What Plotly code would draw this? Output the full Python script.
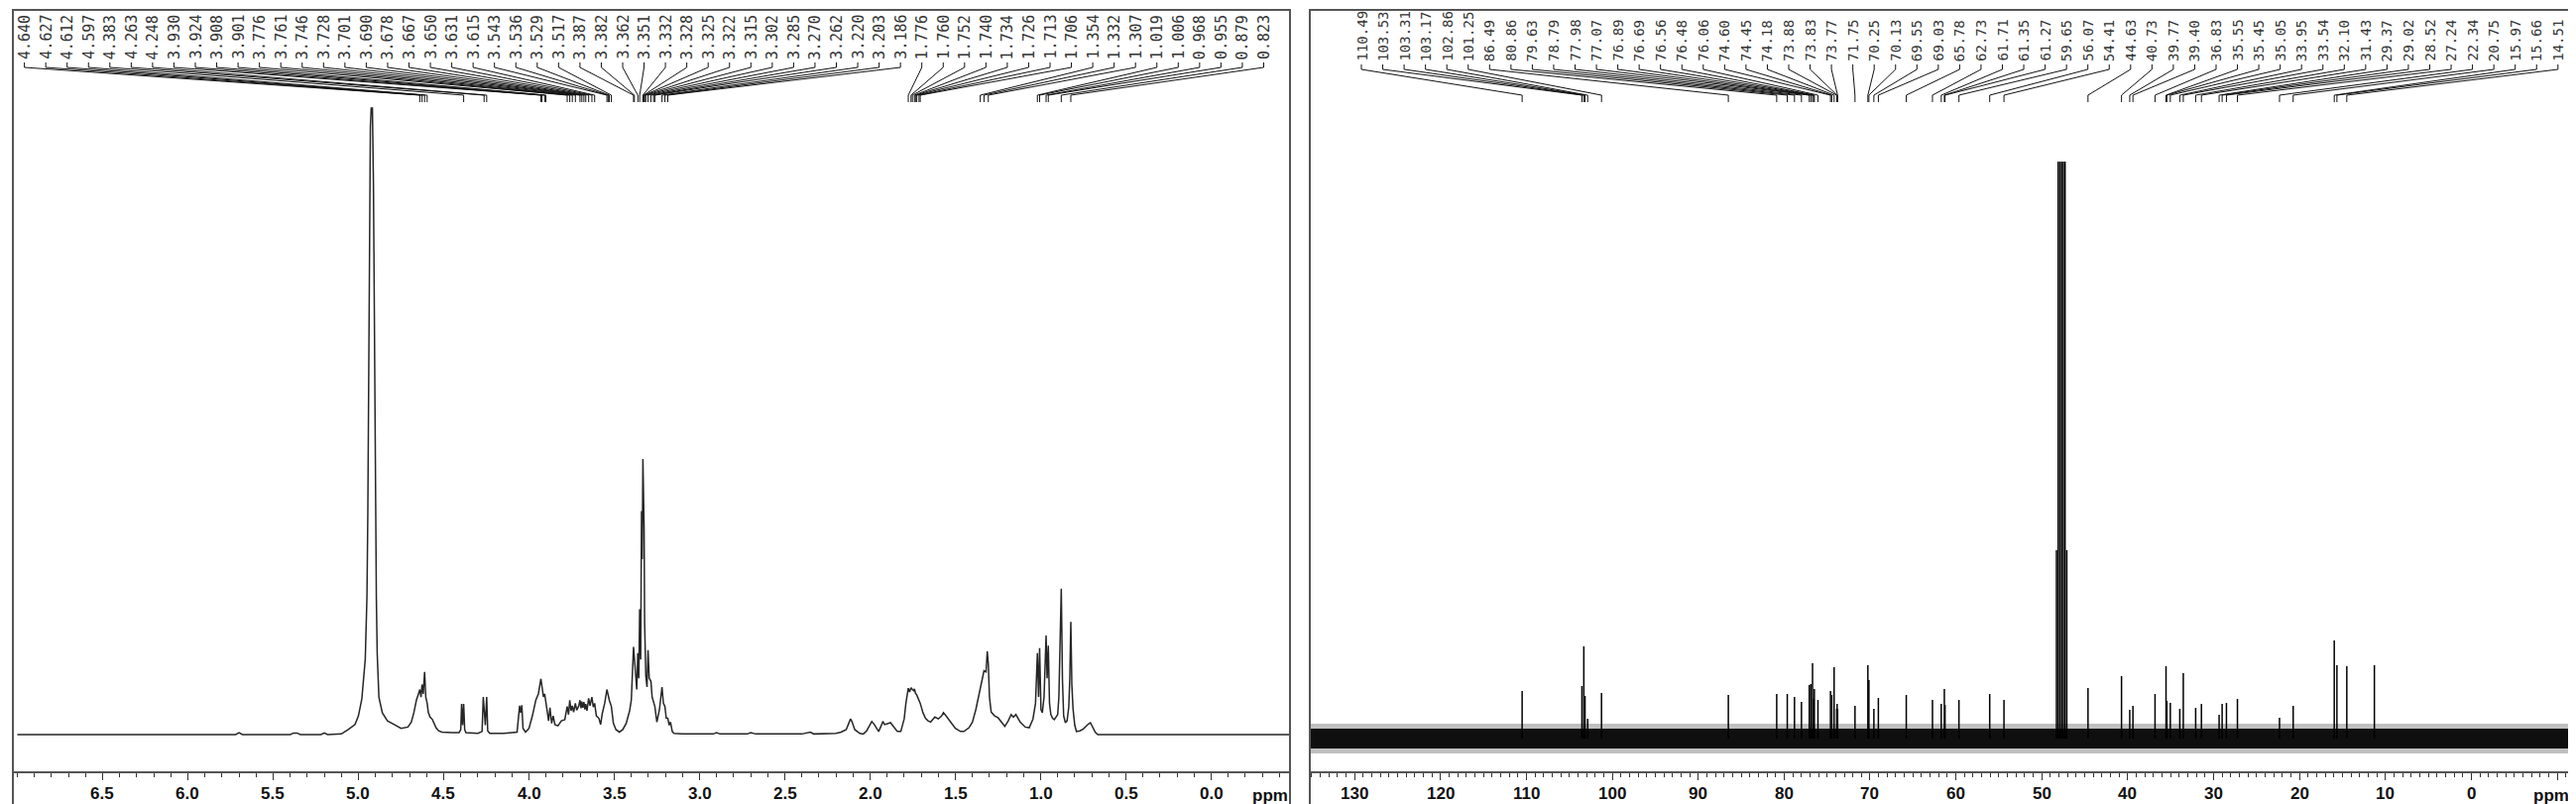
import plotly.graph_objects as go

W, H = 2598, 811

# ---- 1H spectrum: (ppm, intensity), 100 = solvent peak
h_low_field = [(7.00, 0), (5.72, 0), (5.70, 0.3), (5.68, 0), (5.40, 0), (5.38, 0.25), (5.36, 0.25),
               (5.34, 0), (5.22, 0), (5.20, 0.25), (5.18, 0), (5.10, 0.1)]
h_water = [(5.06, 0.8), (5.02, 1.6), (5.00, 3.0), (4.98, 5.7), (4.96, 12), (4.95, 22), (4.945, 35),
           (4.94, 55), (4.935, 80), (4.93, 97), (4.925, 100), (4.918, 100), (4.912, 88), (4.906, 60),
           (4.90, 40), (4.895, 22), (4.89, 13), (4.88, 6), (4.86, 3.5), (4.83, 2.2), (4.79, 1.6),
           (4.75, 1.0), (4.71, 1.2)]
h_anomeric = [(4.69, 2.0), (4.675, 3.5), (4.66, 5.5), (4.648, 6.5), (4.640, 7.2), (4.633, 6.0),
              (4.627, 8.0), (4.620, 6.5), (4.612, 10.0), (4.605, 6.0), (4.597, 5.0), (4.59, 3.5),
              (4.58, 2.8), (4.566, 2.4), (4.555, 1.6), (4.545, 1.1), (4.53, 0.6), (4.51, 0.4),
              (4.45, 0.3), (4.41, 0.3), (4.40, 0.8), (4.395, 4.9), (4.389, 1.5), (4.383, 4.9),
              (4.377, 0.8), (4.37, 0.3), (4.30, 0.2), (4.275, 0.5), (4.268, 6.0), (4.256, 1.5),
              (4.248, 6.0), (4.242, 0.6), (4.23, 0.2), (4.15, 0.2), (4.07, 0.4), (4.055, 4.6),
              (4.049, 3.5), (4.042, 4.7), (4.035, 1.0), (4.02, 0.4)]
h_sugar = [(4.00, 1.0), (3.98, 3.0), (3.96, 5.5), (3.945, 6.5), (3.930, 8.9), (3.924, 7.5),
           (3.915, 6.0), (3.908, 6.5), (3.901, 5.2), (3.895, 3.5), (3.885, 2.2), (3.877, 4.3),
           (3.867, 1.8), (3.858, 3.0), (3.848, 1.6), (3.83, 1.4), (3.81, 2.2), (3.79, 2.4),
           (3.776, 4.5), (3.768, 3.2), (3.761, 5.5), (3.753, 3.8), (3.746, 4.6), (3.738, 3.6),
           (3.728, 5.0), (3.72, 3.9), (3.708, 4.6), (3.701, 5.5), (3.695, 4.2), (3.690, 5.3),
           (3.684, 4.3), (3.678, 5.2), (3.672, 4.0), (3.667, 4.9), (3.66, 3.8), (3.650, 5.8),
           (3.642, 4.6), (3.631, 6.0), (3.623, 4.4), (3.615, 5.0), (3.605, 3.0), (3.59, 2.6),
           (3.58, 1.6), (3.57, 3.4), (3.556, 5.0), (3.543, 7.2), (3.536, 6.0), (3.529, 5.5),
           (3.517, 4.5), (3.505, 1.8), (3.49, 0.8), (3.47, 0.4), (3.45, 0.8), (3.43, 1.8)]
h_methanol = [(3.41, 3.8), (3.40, 5.5), (3.387, 14), (3.382, 12.3), (3.374, 9.0), (3.368, 7.2),
              (3.362, 13), (3.356, 9), (3.351, 20), (3.345, 12), (3.340, 35.7), (3.336, 28),
              (3.332, 44), (3.328, 38), (3.325, 33), (3.322, 18), (3.315, 9.4), (3.308, 7.6),
              (3.302, 13.5), (3.295, 9), (3.285, 8.5), (3.278, 6), (3.270, 5), (3.262, 4.5),
              (3.25, 2), (3.235, 4), (3.220, 7.6), (3.212, 5), (3.203, 4.5), (3.195, 2.6),
              (3.186, 2.6), (3.178, 1.5), (3.17, 2.0), (3.16, 0.5), (3.15, 0.2), (3.10, 0.1)]
h_mid_field = [(2.92, 0.1), (2.90, 0.3), (2.88, 0.1), (2.72, 0.1), (2.70, 0.3), (2.67, 0.1),
               (2.40, 0.1), (2.35, 0.4), (2.33, 0.1), (2.20, 0.2), (2.17, 0.4), (2.14, 0.8),
               (2.125, 1.8), (2.115, 2.5), (2.105, 2.0), (2.09, 0.8), (2.06, 0.2), (2.04, 0.1),
               (2.02, 0.6), (2.00, 1.6), (1.99, 2.1), (1.975, 1.6), (1.96, 0.8), (1.95, 0.5),
               (1.935, 1.4), (1.925, 2.1), (1.915, 1.6), (1.905, 1.7), (1.88, 1.9), (1.86, 1.2),
               (1.84, 0.5), (1.82, 0.5)]
h_aliphatic = [(1.80, 2.5), (1.79, 5.0), (1.776, 7.4), (1.768, 6.8), (1.760, 7.5), (1.752, 7.2),
               (1.745, 7.0), (1.740, 7.3), (1.734, 6.6), (1.726, 6.3), (1.713, 5.6), (1.706, 5.0),
               (1.69, 3.5), (1.675, 2.6), (1.66, 2.2), (1.645, 2.0), (1.62, 2.8), (1.60, 2.5),
               (1.58, 3.0), (1.57, 3.5), (1.555, 3.0), (1.53, 2.1), (1.50, 1.0), (1.47, 0.5),
               (1.45, 0.5), (1.42, 1.1), (1.40, 2.0), (1.38, 4.0), (1.365, 6.0), (1.354, 7.2),
               (1.345, 8.8), (1.332, 10.2), (1.320, 10), (1.313, 13.3), (1.307, 11.4), (1.300, 6),
               (1.29, 3.6), (1.27, 3.0), (1.25, 2.7), (1.23, 2.0), (1.21, 1.3), (1.19, 2.2),
               (1.173, 3.2), (1.16, 2.8), (1.145, 3.2), (1.12, 2.0), (1.09, 1.2), (1.067, 1.1)]
h_methyl = [(1.045, 2.5), (1.030, 5), (1.019, 13), (1.012, 6), (1.006, 13.8), (0.998, 4),
            (0.990, 3.5), (0.980, 6), (0.968, 15.8), (0.962, 9), (0.955, 14.2), (0.948, 5),
            (0.94, 3.2), (0.93, 2.6), (0.92, 2.4), (0.91, 2.8), (0.90, 3.2), (0.893, 6),
            (0.886, 16), (0.879, 23.3), (0.872, 8.7), (0.865, 3), (0.855, 1.9), (0.845, 2.2),
            (0.835, 4.4), (0.829, 9), (0.823, 18), (0.817, 8), (0.81, 4.1), (0.80, 1.5),
            (0.79, 0.5), (0.77, 0.6), (0.75, 0.9), (0.737, 1.3), (0.72, 1.7), (0.708, 1.9),
            (0.695, 1.2), (0.68, 0.4), (0.665, 0), (-0.46, 0)]

h_labels = [4.640, 4.627, 4.612, 4.597, 4.383, 4.263, 4.248, 3.930, 3.924, 3.908, 3.901, 3.776,
            3.761, 3.746, 3.728, 3.701, 3.690, 3.678, 3.667, 3.650, 3.631, 3.615, 3.543, 3.536,
            3.529, 3.517, 3.387, 3.382, 3.362, 3.351, 3.332, 3.328, 3.325, 3.322, 3.315, 3.302,
            3.285, 3.270, 3.262, 3.220, 3.203, 3.186, 1.776, 1.760, 1.752, 1.740, 1.734, 1.726,
            1.713, 1.706, 1.354, 1.332, 1.307, 1.019, 1.006, 0.968, 0.955, 0.879, 0.823]

# ---- 13C spectrum: labelled lines and heights (px-like units above the noise centre)
c_labels = [110.49, 103.53, 103.31, 103.17, 102.86, 101.25, 86.49, 80.86, 79.63, 78.79, 77.98,
            77.07, 76.89, 76.69, 76.56, 76.48, 76.06, 74.60, 74.45, 74.18, 73.88, 73.83, 73.77,
            71.75, 70.25, 70.13, 69.55, 69.03, 65.78, 62.73, 61.71, 61.35, 61.27, 59.65, 56.07,
            54.41, 44.63, 40.73, 39.77, 39.40, 36.83, 35.55, 35.45, 35.05, 33.95, 33.54, 32.10,
            31.43, 29.37, 29.02, 28.52, 27.24, 22.34, 20.75, 15.97, 15.66, 14.51]
c_unlabelled = [11.30]
c_heights = [48, 53, 93, 43, 20, 46, 44, 45, 45, 42, 37, 54, 55, 76, 40, 50, 39, 48, 44, 72, 30,
             35, 30, 33, 74, 59, 30, 41, 44, 39, 35, 50, 34, 39, 45, 39, 51, 63, 29, 33, 45, 73,
             38, 36, 30, 66, 31, 35, 24, 35, 36, 40, 21, 33, 99, 74, 73, 74]
c_solvent_ppm = [48.3, 48.1, 47.9, 47.7, 47.5, 47.3, 47.1]
c_solvent_height = [190, 582, 582, 582, 582, 582, 190]
c_noise_core = 10
c_noise_spikes = 15

h_ticks = [6.5, 6.0, 5.5, 5.0, 4.5, 4.0, 3.5, 3.0, 2.5, 2.0, 1.5, 1.0, 0.5, 0.0]
c_ticks = [130, 120, 110, 100, 90, 80, 70, 60, 50, 40, 30, 20, 10, 0]

# ---- panel geometry (pixels)
L_X0, L_X1, L_RANGE = 5, 1293, [7.026, -0.462]
R_X0, R_X1, R_RANGE = 1313, 2589, [135.2, -12.05]
AXIS_Y, TICKLABEL_Y = 770, 792
BOX_TOP, BOX_BOT = 2, 807
H_BASE, H_TOP = 733, 60
C_BASE, C_TOP = 737, 155
ELBOW2, TIP = 88, 95
LBL_L0, LBL_R0, LBL_DX = 16.6, 1365, 21.55

h_x, h_y = [], []
for seg in (h_low_field, h_water, h_anomeric, h_sugar, h_methanol, h_mid_field, h_aliphatic, h_methyl):
    h_x += [p for p, _ in seg]
    h_y += [v for _, v in seg]

c_x, c_y = [], []
for p, v in zip(c_labels + c_unlabelled + c_solvent_ppm, c_heights + c_solvent_height):
    c_x += [p, p, None]
    c_y += [0, v, None]


def px_to_ppm(px, x0, x1, rng):
    return rng[0] + (px - x0) * (rng[1] - rng[0]) / (x1 - x0)


fig = go.Figure()
fig.add_trace(go.Scatter(x=h_x, y=h_y, mode="lines", line=dict(color="#262626", width=1.5),
                         xaxis="x", yaxis="y", hoverinfo="skip"))
for amp, col in [(c_noise_spikes, "rgba(0,0,0,0.25)"), (c_noise_core, "rgba(0,0,0,0.92)")]:
    fig.add_trace(go.Scatter(x=[R_RANGE[0], R_RANGE[1], R_RANGE[1], R_RANGE[0]],
                             y=[-amp, -amp, amp, amp], fill="toself", fillcolor=col,
                             line=dict(width=0), mode="lines", xaxis="x2", yaxis="y2",
                             hoverinfo="skip"))
fig.add_trace(go.Scatter(x=c_x, y=c_y, mode="lines", line=dict(color="#000", width=1.5),
                         xaxis="x2", yaxis="y2", hoverinfo="skip"))

annotations = []
for labels, x0, x1, rng, lbl0, xa, ya, fmt, fsize, txt_bot in [
    (h_labels, L_X0, L_X1, L_RANGE, LBL_L0, "x3", "y3", "{:.3f}", 15, 54),
    (c_labels, R_X0, R_X1, R_RANGE, LBL_R0, "x4", "y4", "{:.2f}", 14, 56),
]:
    lx, ly = [], []
    for i, v in enumerate(labels):
        pos = px_to_ppm(lbl0 + i * LBL_DX, x0, x1, rng)
        lx += [pos, pos, v, v, None]
        ly += [txt_bot + 1, txt_bot + 6, ELBOW2, TIP, None]
        annotations.append(dict(x=pos, y=txt_bot, xref=xa, yref=ya, text=fmt.format(v),
                                textangle=-90, showarrow=False, xanchor="center", yanchor="bottom",
                                font=dict(family="DejaVu Sans Mono", size=fsize, color="#333")))
    fig.add_trace(go.Scatter(x=lx, y=ly, mode="lines", line=dict(color="#111", width=1),
                             xaxis=xa, yaxis=ya, hoverinfo="skip"))

tickfont = dict(family="Liberation Sans", size=17, color="#111", weight="bold")
for ticks, xa, ya, fmt in [(h_ticks, "x3", "y3", "{:.1f}"), (c_ticks, "x4", "y4", "{:d}")]:
    for t in ticks:
        annotations.append(dict(x=t, y=TICKLABEL_Y, xref=xa, yref=ya, text=fmt.format(t),
                                showarrow=False, xanchor="center", yanchor="middle", font=tickfont))
for xp in (1273, 2565):
    annotations.append(dict(x=xp / W, y=TICKLABEL_Y + 2, xref="paper", yref="y3", text="ppm",
                            showarrow=False, xanchor="center", yanchor="middle", font=tickfont))

common_x = dict(showline=True, linecolor="#555", linewidth=2, ticks="outside", ticklen=7,
                tickcolor="#333", tickwidth=1, showticklabels=False, showgrid=False,
                zeroline=False)
hidden = dict(visible=False, showgrid=False, zeroline=False)

shapes = []
for x0, x1 in [(L_X0, L_X1), (R_X0, R_X1)]:
    shapes.append(dict(type="rect", xref="paper", yref="paper", x0=x0 / W, x1=x1 / W,
                       y0=1 - BOX_BOT / H, y1=1 - BOX_TOP / H, line=dict(color="#555", width=2)))

fig.update_layout(
    width=W, height=H, margin=dict(l=0, r=0, t=0, b=0),
    paper_bgcolor="white", plot_bgcolor="rgba(0,0,0,0)", showlegend=False,
    xaxis=dict(domain=[L_X0 / W, L_X1 / W], range=L_RANGE, anchor="y", tickvals=h_ticks,
               minor=dict(dtick=0.1, tick0=0, ticks="outside", ticklen=4, tickcolor="#333"),
               **common_x),
    yaxis=dict(domain=[1 - AXIS_Y / H, 1 - H_TOP / H],
               range=[-(AXIS_Y - H_BASE) / 6.32, (H_BASE - H_TOP) / 6.32], anchor="x", **hidden),
    xaxis2=dict(domain=[R_X0 / W, R_X1 / W], range=R_RANGE, anchor="y2", tickvals=c_ticks + [-10],
                minor=dict(dtick=1, tick0=0, ticks="outside", ticklen=4, tickcolor="#333"),
                **common_x),
    yaxis2=dict(domain=[1 - AXIS_Y / H, 1 - C_TOP / H], range=[-(AXIS_Y - C_BASE), C_BASE - C_TOP],
                anchor="x2", **hidden),
    xaxis3=dict(domain=[L_X0 / W, L_X1 / W], range=L_RANGE, anchor="y3", **hidden),
    yaxis3=dict(domain=[0, 1], range=[H, 0], anchor="x3", **hidden),
    xaxis4=dict(domain=[R_X0 / W, R_X1 / W], range=R_RANGE, anchor="y4", **hidden),
    yaxis4=dict(domain=[0, 1], range=[H, 0], anchor="x4", **hidden),
    annotations=annotations, shapes=shapes,
)

fig.write_html("out.html")
